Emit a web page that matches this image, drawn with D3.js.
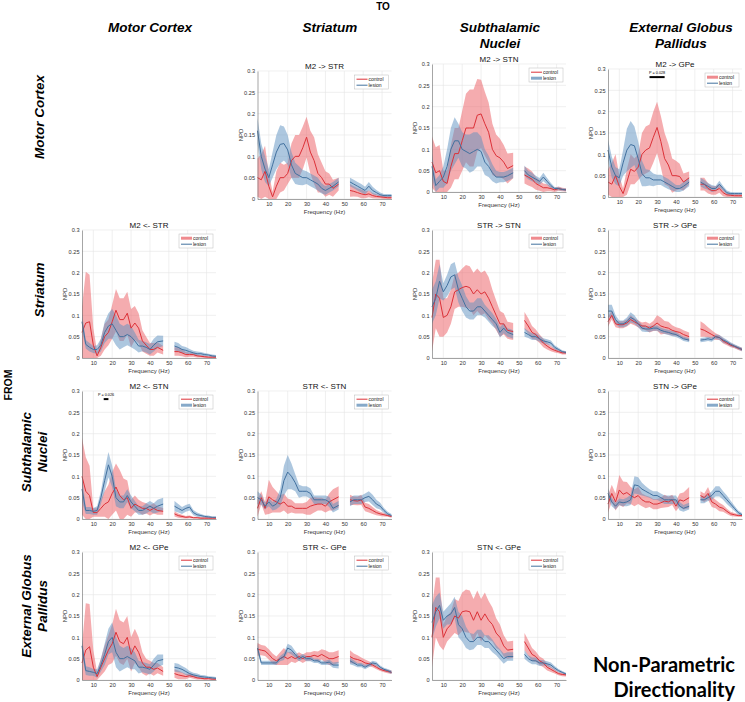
<!DOCTYPE html>
<html><head><meta charset="utf-8">
<script src="https://cdn.jsdelivr.net/npm/d3@7"></script>
<style>
html,body{margin:0;padding:0;background:#fff;}
svg{display:block;font-family:"Liberation Sans",Arial,sans-serif;}
</style></head>
<body>
<svg id="chart" width="745" height="702"></svg>
<script>
// Frequencies (Hz); a gap between 47 and 53 Hz (line-noise notch)
const freqs = [4,6,8,10,12,14,16,18,20,22,24,26,28,30,32,34,36,38,40,42,44,47, 53,55,57,59,61,63,65,67,69,71,73,75];
const xTicks = [10,20,30,40,50,60,70];
const yTicks = [0,0.05,0.1,0.15,0.2,0.25,0.3];
const yTickLabels = ["0","0.05","0.1","0.15","0.2","0.25","0.3"];
const seriesNames = ["control","lesion"];
const colHeaders = [["Motor Cortex"],["Striatum"],["Subthalamic","Nuclei"],["External Globus","Pallidus"]];
const rowHeaders = [["Motor Cortex"],["Striatum"],["Subthalamic","Nuclei"],["External Globus","Pallidus"]];

// ---- panel M2 -> STR
const a_cm = [0.05,0.045,0.065,0.03,0.005,0.03,0.05,0.05,0.06,0.09,0.10,0.10,0.12,0.145,0.11,0.09,0.06,0.05,0.035,0.035,0.025,0.035, 0.02,0.018,0.015,0.012,0.01,0.012,0.008,0.006,0.005,0.004,0.003,0.003];
const a_ce = [0.045,0.06,0.06,0.03,0.012,0.035,0.035,0.03,0.025,0.04,0.05,0.05,0.05,0.048,0.05,0.055,0.045,0.035,0.03,0.025,0.02,0.015, 0.015,0.012,0.01,0.01,0.008,0.008,0.006,0.005,0.004,0.004,0.004,0.004];
const a_lm = [0.16,0.10,0.07,0.05,0.08,0.11,0.128,0.13,0.115,0.08,0.06,0.055,0.05,0.05,0.045,0.04,0.035,0.025,0.02,0.025,0.03,0.04, 0.04,0.035,0.03,0.025,0.02,0.03,0.02,0.015,0.01,0.008,0.008,0.008];
const a_le = [0.03,0.03,0.03,0.02,0.03,0.04,0.045,0.04,0.035,0.03,0.025,0.022,0.018,0.015,0.015,0.015,0.015,0.012,0.01,0.01,0.01,0.01, 0.01,0.01,0.01,0.01,0.009,0.01,0.009,0.006,0.005,0.004,0.004,0.004];
// ---- panel M2 -> STN
const b_cm = [0.07,0.045,0.05,0.025,0.02,0.06,0.09,0.09,0.12,0.15,0.15,0.15,0.18,0.183,0.16,0.14,0.10,0.085,0.08,0.07,0.055,0.062, 0.04,0.035,0.03,0.02,0.015,0.01,0.01,0.008,0.005,0.008,0.006,0.005];
const b_ce = [0.06,0.06,0.06,0.025,0.03,0.05,0.06,0.06,0.07,0.08,0.09,0.09,0.085,0.08,0.075,0.07,0.06,0.05,0.045,0.04,0.035,0.03, 0.02,0.02,0.018,0.015,0.012,0.01,0.008,0.006,0.005,0.005,0.004,0.004];
const b_lm = [0.06,0.015,0.025,0.035,0.06,0.10,0.12,0.12,0.10,0.095,0.09,0.095,0.10,0.095,0.07,0.06,0.045,0.035,0.035,0.035,0.038,0.045, 0.05,0.04,0.035,0.03,0.025,0.035,0.025,0.015,0.008,0.008,0.006,0.005];
const b_le = [0.03,0.015,0.015,0.025,0.04,0.05,0.055,0.04,0.04,0.04,0.045,0.045,0.04,0.035,0.03,0.025,0.02,0.015,0.012,0.012,0.012,0.012, 0.012,0.01,0.01,0.008,0.008,0.01,0.008,0.006,0.004,0.004,0.003,0.003];
// ---- panel M2 -> GPe
const c_cm = [0.035,0.03,0.05,0.025,0.008,0.035,0.065,0.06,0.07,0.10,0.11,0.115,0.14,0.163,0.13,0.09,0.075,0.05,0.05,0.048,0.035,0.045, 0.03,0.03,0.02,0.015,0.015,0.02,0.01,0.005,0.004,0.003,0.003,0.003];
const c_ce = [0.03,0.05,0.05,0.025,0.012,0.03,0.035,0.03,0.03,0.05,0.055,0.055,0.06,0.06,0.06,0.06,0.05,0.04,0.035,0.03,0.02,0.015, 0.015,0.015,0.012,0.01,0.01,0.01,0.008,0.005,0.004,0.004,0.004,0.004];
const c_lm = [0.11,0.07,0.05,0.045,0.08,0.11,0.123,0.12,0.09,0.055,0.045,0.045,0.04,0.04,0.04,0.035,0.03,0.025,0.02,0.02,0.025,0.035, 0.035,0.03,0.025,0.02,0.02,0.03,0.02,0.01,0.008,0.008,0.008,0.008];
const c_le = [0.025,0.025,0.02,0.02,0.03,0.05,0.055,0.045,0.04,0.03,0.02,0.018,0.015,0.012,0.012,0.012,0.012,0.01,0.008,0.008,0.01,0.01, 0.01,0.01,0.008,0.008,0.006,0.008,0.006,0.005,0.004,0.003,0.003,0.003];
// ---- panel M2 <- STR
const d_cm = [0.06,0.082,0.085,0.03,0.005,0.025,0.05,0.06,0.085,0.112,0.09,0.09,0.105,0.07,0.082,0.07,0.04,0.03,0.02,0.02,0.025,0.018, 0.015,0.015,0.012,0.008,0.008,0.008,0.005,0.004,0.003,0.002,0.002,0.002];
const d_ce = [0.06,0.12,0.11,0.04,0.01,0.02,0.03,0.03,0.04,0.05,0.05,0.05,0.05,0.045,0.04,0.035,0.025,0.02,0.015,0.015,0.012,0.01, 0.01,0.01,0.008,0.006,0.005,0.005,0.004,0.003,0.003,0.002,0.002,0.002];
const d_lm = [0.085,0.032,0.025,0.02,0.02,0.03,0.06,0.075,0.08,0.065,0.05,0.05,0.055,0.05,0.04,0.028,0.028,0.025,0.02,0.03,0.038,0.04, 0.028,0.025,0.02,0.018,0.015,0.012,0.01,0.01,0.008,0.007,0.005,0.004];
const d_le = [0.02,0.01,0.01,0.008,0.01,0.015,0.025,0.03,0.035,0.035,0.03,0.025,0.025,0.025,0.02,0.015,0.012,0.012,0.012,0.015,0.015,0.012, 0.01,0.01,0.008,0.008,0.006,0.005,0.005,0.004,0.004,0.003,0.003,0.003];
// ---- panel STR -> STN
const e_cm = [0.095,0.15,0.14,0.095,0.10,0.12,0.155,0.16,0.165,0.168,0.165,0.15,0.16,0.15,0.155,0.14,0.12,0.10,0.08,0.08,0.065,0.062, 0.088,0.075,0.06,0.055,0.045,0.035,0.028,0.022,0.018,0.015,0.012,0.012];
const e_ce = [0.08,0.08,0.09,0.045,0.04,0.04,0.04,0.04,0.045,0.05,0.05,0.05,0.05,0.05,0.05,0.05,0.04,0.035,0.03,0.025,0.02,0.02, 0.02,0.018,0.015,0.012,0.01,0.01,0.008,0.006,0.005,0.004,0.004,0.004];
const e_lm = [0.12,0.14,0.18,0.155,0.17,0.19,0.195,0.16,0.14,0.12,0.11,0.11,0.12,0.12,0.11,0.10,0.09,0.08,0.06,0.07,0.06,0.055, 0.06,0.055,0.05,0.05,0.045,0.04,0.038,0.035,0.025,0.02,0.015,0.013];
const e_le = [0.04,0.04,0.04,0.02,0.025,0.03,0.03,0.03,0.03,0.025,0.02,0.02,0.02,0.02,0.015,0.015,0.015,0.012,0.012,0.012,0.01,0.01, 0.01,0.008,0.008,0.008,0.007,0.006,0.006,0.006,0.005,0.004,0.003,0.003];
// ---- panel STR -> GPe
const f_cm = [0.085,0.10,0.08,0.078,0.078,0.082,0.09,0.085,0.08,0.075,0.075,0.07,0.075,0.082,0.075,0.072,0.07,0.065,0.062,0.06,0.055,0.05, 0.068,0.065,0.06,0.055,0.05,0.048,0.04,0.035,0.03,0.027,0.023,0.02];
const f_ce = [0.012,0.01,0.008,0.008,0.008,0.008,0.01,0.008,0.008,0.008,0.01,0.01,0.012,0.018,0.02,0.015,0.015,0.012,0.01,0.01,0.01,0.01, 0.018,0.015,0.012,0.01,0.008,0.006,0.006,0.005,0.005,0.004,0.004,0.004];
const f_lm = [0.11,0.11,0.09,0.08,0.08,0.085,0.095,0.09,0.08,0.07,0.068,0.068,0.07,0.07,0.065,0.062,0.06,0.057,0.055,0.05,0.045,0.042, 0.042,0.043,0.045,0.043,0.05,0.048,0.042,0.038,0.032,0.028,0.024,0.02];
const f_le = [0.015,0.015,0.01,0.008,0.008,0.01,0.012,0.01,0.008,0.008,0.007,0.007,0.006,0.006,0.006,0.006,0.006,0.006,0.006,0.005,0.005,0.005, 0.005,0.005,0.005,0.005,0.005,0.006,0.006,0.005,0.005,0.004,0.004,0.004];
// ---- panel M2 <- STN
const g_cm = [0.10,0.065,0.055,0.015,0.015,0.025,0.035,0.04,0.06,0.075,0.055,0.045,0.05,0.025,0.035,0.03,0.025,0.025,0.02,0.025,0.02,0.018, 0.012,0.008,0.006,0.004,0.005,0.003,0.003,0.002,0.002,0.002,0.002,0.002];
const g_ce = [0.09,0.08,0.07,0.01,0.01,0.02,0.03,0.04,0.05,0.055,0.06,0.05,0.04,0.02,0.02,0.015,0.015,0.012,0.012,0.012,0.01,0.008, 0.006,0.005,0.004,0.003,0.003,0.002,0.002,0.002,0.002,0.002,0.002,0.002];
const g_lm = [0.07,0.02,0.02,0.018,0.02,0.05,0.09,0.127,0.10,0.05,0.04,0.04,0.055,0.04,0.03,0.02,0.02,0.025,0.03,0.025,0.03,0.035, 0.03,0.025,0.02,0.025,0.028,0.015,0.01,0.008,0.006,0.005,0.004,0.004];
const g_le = [0.03,0.008,0.008,0.008,0.01,0.015,0.025,0.03,0.025,0.02,0.015,0.015,0.015,0.015,0.012,0.01,0.01,0.012,0.012,0.012,0.015,0.015, 0.012,0.01,0.008,0.008,0.008,0.006,0.005,0.004,0.003,0.003,0.002,0.002];
// ---- panel STR <- STN
const h_cm = [0.025,0.05,0.025,0.052,0.045,0.04,0.035,0.04,0.03,0.03,0.025,0.025,0.025,0.025,0.03,0.033,0.035,0.035,0.03,0.04,0.045,0.052, 0.045,0.043,0.042,0.045,0.028,0.025,0.02,0.015,0.012,0.01,0.008,0.006];
const h_ce = [0.02,0.015,0.015,0.04,0.03,0.025,0.02,0.02,0.018,0.015,0.012,0.012,0.012,0.015,0.02,0.018,0.015,0.015,0.015,0.02,0.025,0.025, 0.012,0.01,0.01,0.012,0.01,0.01,0.008,0.006,0.005,0.004,0.003,0.003];
const h_lm = [0.05,0.045,0.03,0.04,0.03,0.035,0.05,0.09,0.11,0.10,0.085,0.065,0.065,0.065,0.06,0.045,0.045,0.045,0.045,0.04,0.025,0.032, 0.04,0.045,0.045,0.045,0.05,0.053,0.045,0.035,0.03,0.02,0.012,0.008];
const h_le = [0.015,0.012,0.008,0.01,0.01,0.012,0.02,0.035,0.04,0.03,0.02,0.015,0.012,0.012,0.012,0.01,0.01,0.01,0.01,0.012,0.01,0.01, 0.01,0.01,0.01,0.01,0.01,0.012,0.012,0.01,0.008,0.006,0.005,0.004];
// ---- panel STN -> GPe
const i_cm = [0.035,0.06,0.04,0.068,0.058,0.062,0.055,0.05,0.055,0.045,0.04,0.04,0.035,0.035,0.038,0.042,0.04,0.045,0.03,0.045,0.042,0.05, 0.055,0.05,0.06,0.04,0.035,0.028,0.025,0.018,0.012,0.01,0.008,0.008];
const i_ce = [0.02,0.02,0.02,0.035,0.03,0.025,0.02,0.02,0.02,0.015,0.015,0.012,0.012,0.012,0.012,0.015,0.012,0.012,0.012,0.015,0.02,0.025, 0.01,0.01,0.015,0.012,0.01,0.01,0.008,0.006,0.005,0.004,0.003,0.003];
const i_lm = [0.06,0.04,0.03,0.04,0.038,0.04,0.045,0.08,0.078,0.07,0.065,0.06,0.055,0.055,0.05,0.045,0.045,0.045,0.045,0.03,0.025,0.03, 0.045,0.045,0.05,0.055,0.065,0.065,0.055,0.045,0.035,0.025,0.015,0.01];
const i_le = [0.012,0.01,0.008,0.008,0.008,0.01,0.012,0.02,0.02,0.015,0.012,0.01,0.01,0.01,0.01,0.01,0.01,0.01,0.01,0.01,0.008,0.008, 0.008,0.008,0.008,0.01,0.012,0.012,0.01,0.01,0.008,0.006,0.005,0.004];
// ---- panel M2 <- GPe
const j_cm = [0.04,0.07,0.078,0.03,0.008,0.03,0.05,0.07,0.085,0.112,0.09,0.085,0.10,0.06,0.08,0.065,0.04,0.03,0.03,0.025,0.028,0.02, 0.015,0.012,0.01,0.008,0.01,0.008,0.005,0.004,0.003,0.003,0.002,0.002];
const j_ce = [0.04,0.11,0.10,0.04,0.01,0.02,0.03,0.035,0.045,0.055,0.05,0.05,0.05,0.04,0.04,0.035,0.025,0.02,0.015,0.015,0.012,0.01, 0.01,0.01,0.008,0.006,0.005,0.005,0.004,0.003,0.003,0.002,0.002,0.002];
const j_lm = [0.08,0.022,0.02,0.018,0.015,0.035,0.06,0.09,0.10,0.065,0.05,0.05,0.055,0.05,0.045,0.03,0.03,0.028,0.025,0.035,0.045,0.048, 0.03,0.028,0.025,0.02,0.015,0.012,0.01,0.008,0.007,0.006,0.005,0.004];
const j_le = [0.02,0.01,0.01,0.008,0.01,0.015,0.025,0.03,0.035,0.035,0.03,0.025,0.025,0.025,0.02,0.015,0.012,0.012,0.012,0.015,0.015,0.012, 0.01,0.01,0.008,0.008,0.006,0.005,0.005,0.004,0.004,0.003,0.003,0.003];
// ---- panel STR <- GPe
const k_cm = [0.072,0.07,0.068,0.06,0.05,0.045,0.05,0.055,0.05,0.055,0.05,0.055,0.05,0.055,0.055,0.058,0.055,0.06,0.055,0.05,0.05,0.055, 0.055,0.05,0.048,0.045,0.04,0.038,0.035,0.03,0.025,0.022,0.02,0.018];
const k_ce = [0.015,0.012,0.012,0.012,0.012,0.01,0.015,0.02,0.015,0.012,0.01,0.01,0.01,0.01,0.01,0.01,0.012,0.012,0.015,0.015,0.015,0.015, 0.015,0.012,0.01,0.008,0.008,0.006,0.005,0.005,0.004,0.004,0.004,0.004];
const k_lm = [0.075,0.04,0.04,0.04,0.04,0.04,0.05,0.055,0.075,0.07,0.06,0.05,0.055,0.05,0.05,0.045,0.045,0.04,0.04,0.042,0.035,0.035, 0.045,0.04,0.035,0.035,0.03,0.035,0.04,0.038,0.03,0.025,0.022,0.018];
const k_le = [0.01,0.005,0.005,0.005,0.005,0.005,0.006,0.008,0.01,0.01,0.008,0.006,0.006,0.006,0.006,0.005,0.005,0.005,0.005,0.006,0.006,0.008, 0.008,0.006,0.005,0.005,0.005,0.005,0.005,0.005,0.004,0.004,0.004,0.004];
// ---- panel STN <- GPe
const l_cm = [0.10,0.17,0.16,0.10,0.12,0.13,0.15,0.145,0.16,0.162,0.16,0.14,0.16,0.14,0.155,0.14,0.13,0.11,0.10,0.08,0.07,0.072, 0.09,0.075,0.06,0.055,0.045,0.04,0.03,0.025,0.02,0.015,0.013,0.012];
const l_ce = [0.07,0.07,0.08,0.03,0.03,0.03,0.04,0.04,0.045,0.05,0.05,0.05,0.05,0.05,0.05,0.045,0.04,0.035,0.03,0.025,0.02,0.02, 0.02,0.018,0.015,0.012,0.01,0.01,0.008,0.006,0.005,0.004,0.004,0.004];
const l_lm = [0.135,0.16,0.175,0.14,0.15,0.155,0.17,0.13,0.12,0.10,0.09,0.09,0.10,0.10,0.09,0.09,0.08,0.07,0.06,0.05,0.055,0.055, 0.06,0.05,0.045,0.045,0.04,0.04,0.038,0.035,0.028,0.022,0.018,0.014];
const l_le = [0.04,0.035,0.03,0.02,0.02,0.025,0.025,0.03,0.03,0.025,0.02,0.018,0.018,0.018,0.015,0.015,0.015,0.012,0.012,0.012,0.01,0.01, 0.01,0.008,0.008,0.008,0.007,0.006,0.006,0.006,0.005,0.004,0.003,0.003];

const panelTitles = ["M2 -> STR","M2 -> STN","M2 -> GPe","M2 <- STR","STR -> STN","STR -> GPe","M2 <- STN","STR <- STN","STN -> GPe","M2 <- GPe","STR <- GPe","STN <- GPe"];
const panelRow = [0,0,0,1,1,1,2,2,2,3,3,3];
const panelCol = [1,2,3,0,2,3,0,1,3,0,1,2];
const panelCtrlMean = [a_cm,b_cm,c_cm,d_cm,e_cm,f_cm,g_cm,h_cm,i_cm,j_cm,k_cm,l_cm];
const panelCtrlErr  = [a_ce,b_ce,c_ce,d_ce,e_ce,f_ce,g_ce,h_ce,i_ce,j_ce,k_ce,l_ce];
const panelLesMean  = [a_lm,b_lm,c_lm,d_lm,e_lm,f_lm,g_lm,h_lm,i_lm,j_lm,k_lm,l_lm];
const panelLesErr   = [a_le,b_le,c_le,d_le,e_le,f_le,g_le,h_le,i_le,j_le,k_le,l_le];
// significance bars
const sigPanels = [2, 6];
const sigFrom = [26, 15.5];
const sigTo = [34, 18];
const sigLevel = [0.281, 0.281];
const sigLabels = ["P = 0.028", "P = 0.026"];

// ---------------- layout / style ----------------
const svg = d3.select("#chart");
const colLeft = [82, 257.5, 432, 608];
const rowTop = [71, 230, 391, 552];
const pw = 134, ph = 128;
const topAdjust = {1: -7, 2: -2};
// legend sample drawn as a thick patch (1) or a thin line (0): [control, lesion]
const legendPatch = [[0,0],[0,1],[1,0],[1,0],[1,0],[1,0],[0,1],[0,1],[0,1],[0,0],[0,0],[0,0]];

const redLine = "#dc3138", redFill = "#ec5a60", redPatch = "#ef8a8e";
const blueLine = "#42719f", blueFill = "#5b8fbf", bluePatch = "#86a9c9";

function segments(mean, err) {
  const pts = freqs.map((f, i) => ({f, m: mean[i], lo: Math.max(0, mean[i] - err[i]), hi: mean[i] + err[i]}));
  return [pts.filter(p => p.f < 50), pts.filter(p => p.f > 50)];
}

panelTitles.forEach((title, p) => {
  const left = colLeft[panelCol[p]];
  const top = rowTop[panelRow[p]] + (topAdjust[p] || 0);
  const x = d3.scaleLinear().domain([4, 75]).range([left, left + pw]);
  const y = d3.scaleLinear().domain([0, 0.3]).range([top + ph, top]);
  const g = svg.append("g");

  // grid
  g.selectAll(".gx").data(xTicks).join("line")
    .attr("x1", d => x(d)).attr("x2", d => x(d)).attr("y1", top).attr("y2", top + ph)
    .attr("stroke", "#e6e6e6").attr("stroke-width", 0.6);
  g.selectAll(".gy").data(yTicks).join("line")
    .attr("x1", left).attr("x2", left + pw).attr("y1", d => y(d)).attr("y2", d => y(d))
    .attr("stroke", "#e6e6e6").attr("stroke-width", 0.6);

  // bands and lines
  const area = d3.area().x(d => x(d.f)).y0(d => y(d.lo)).y1(d => y(d.hi));
  const line = d3.line().x(d => x(d.f)).y(d => y(d.m));
  const cs = segments(panelCtrlMean[p], panelCtrlErr[p]);
  const ls = segments(panelLesMean[p], panelLesErr[p]);
  cs.forEach(s => g.append("path").attr("d", area(s)).attr("fill", redFill).attr("fill-opacity", 0.5));
  ls.forEach(s => g.append("path").attr("d", area(s)).attr("fill", blueFill).attr("fill-opacity", 0.5));
  cs.forEach(s => g.append("path").attr("d", line(s)).attr("fill", "none").attr("stroke", redLine).attr("stroke-width", 1));
  ls.forEach(s => g.append("path").attr("d", line(s)).attr("fill", "none").attr("stroke", blueLine).attr("stroke-width", 1));

  // axes
  const xAxis = d3.axisBottom(x).tickValues(xTicks).tickSize(0).tickPadding(3);
  const yAxis = d3.axisLeft(y).tickValues(yTicks).tickFormat((d, i) => yTickLabels[i]).tickSize(0).tickPadding(2.5);
  const gx = g.append("g").attr("transform", `translate(0,${top + ph})`).call(xAxis);
  const gy = g.append("g").attr("transform", `translate(${left},0)`).call(yAxis);
  [gx, gy].forEach(a => {
    a.select(".domain").attr("stroke", "#6a6a6a").attr("stroke-width", 0.6);
    a.selectAll("text").attr("font-size", 5.6).attr("fill", "#333").attr("font-family", "Liberation Sans, Arial, sans-serif");
  });

  // labels
  g.append("text").attr("x", left + pw / 2).attr("y", top - 2).attr("text-anchor", "middle")
    .attr("font-size", 8).attr("fill", "#111").text(title);
  g.append("text").attr("x", left + pw / 2).attr("y", top + ph + 14.5).attr("text-anchor", "middle")
    .attr("font-size", 6).attr("fill", "#333").text("Frequency (Hz)");
  g.append("text").attr("transform", `translate(${left - 15},${top + ph / 2}) rotate(-90)`)
    .attr("text-anchor", "middle").attr("font-size", 6).attr("fill", "#333").text("NPD");

  // legend
  const lw = 34, lh = 14, lx = left + pw - lw - 3, ly = top + 4;
  g.append("rect").attr("x", lx).attr("y", ly).attr("width", lw).attr("height", lh)
    .attr("fill", "#fff").attr("stroke", "#bdbdbd").attr("stroke-width", 0.5);
  seriesNames.forEach((name, k) => {
    const yy = ly + 4.2 + k * 6;
    const thick = legendPatch[p][k] === 1;
    g.append("line").attr("x1", lx + 2).attr("x2", lx + 13).attr("y1", yy).attr("y2", yy)
      .attr("stroke", thick ? (k === 0 ? redPatch : bluePatch) : (k === 0 ? redLine : blueLine))
      .attr("stroke-width", thick ? 3 : 1);
    g.append("text").attr("x", lx + 14).attr("y", yy + 1.7).attr("font-size", 5).attr("fill", "#222").text(name);
  });

  // significance
  sigPanels.forEach((sp, k) => {
    if (sp !== p) return;
    g.append("line").attr("x1", x(sigFrom[k])).attr("x2", x(sigTo[k])).attr("y1", y(sigLevel[k])).attr("y2", y(sigLevel[k]))
      .attr("stroke", "#000").attr("stroke-width", 2);
    g.append("text").attr("x", (x(sigFrom[k]) + x(sigTo[k])) / 2).attr("y", y(sigLevel[k]) - 3)
      .attr("text-anchor", "middle").attr("font-size", 3.8).attr("fill", "#000").text(sigLabels[k]);
  });
});

// ---------------- headers ----------------
svg.append("text").attr("x", 383).attr("y", 10).attr("text-anchor", "middle")
  .attr("font-weight", "bold").attr("font-size", 10).text("TO");
const headerX = [150, 330, 500, 681];
colHeaders.forEach((lines, c) => {
  lines.forEach((t, k) => {
    svg.append("text").attr("x", headerX[c]).attr("y", 32 + k * 16).attr("text-anchor", "middle")
      .attr("font-weight", "bold").attr("font-style", "italic").attr("font-size", 13.5).text(t);
  });
});
const rowCenter = [117, 290, 452, 606];
rowHeaders.forEach((lines, r) => {
  const n = lines.length;
  lines.forEach((t, k) => {
    const xx = 44 - (n - 1 - k) * 16 + (n === 1 ? 0 : 3);
    svg.append("text").attr("transform", `translate(${xx},${rowCenter[r]}) rotate(-90)`).attr("text-anchor", "middle")
      .attr("font-weight", "bold").attr("font-style", "italic").attr("font-size", 13.5).text(t);
  });
});
svg.append("text").attr("transform", `translate(12,385) rotate(-90)`).attr("text-anchor", "middle")
  .attr("font-weight", "bold").attr("font-size", 10.5).text("FROM");

svg.append("text").attr("x", 735).attr("y", 672).attr("text-anchor", "end")
  .attr("font-family", "Lato, sans-serif").attr("font-weight", "bold").attr("font-size", 20).text("Non-Parametric");
svg.append("text").attr("x", 735).attr("y", 697).attr("text-anchor", "end")
  .attr("font-family", "Lato, sans-serif").attr("font-weight", "bold").attr("font-size", 20).text("Directionality");
</script>
</body></html>
